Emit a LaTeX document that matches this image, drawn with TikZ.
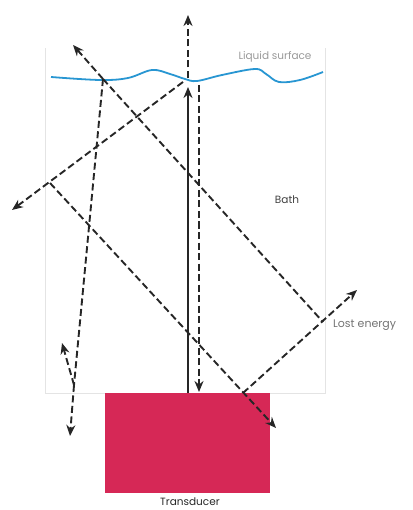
\documentclass[tikz,border=0pt]{standalone}
\usepackage{fontspec}
\setmainfont{Poppins}
\usetikzlibrary{arrows.meta}
\definecolor{surfblue}{RGB}{40,150,210}
\definecolor{transred}{RGB}{214,40,86}
\definecolor{wallgray}{RGB}{228,228,228}
\definecolor{labgray}{RGB}{130,130,130}
\begin{document}
\begin{tikzpicture}[x=1pt,y=-1pt,
  ray/.style={line width=1.9pt,dash pattern=on 7pt off 3.5pt,color=black!85},
  solidray/.style={line width=1.9pt,color=black!85},
  tip/.style={-{Stealth[length=11pt,width=9pt]}},
  lab/.style={font=\fontsize{10.5}{12}\selectfont,text=labgray,inner sep=0pt}]
\useasboundingbox (0,0) rectangle (412,510);
% bath walls
\draw[wallgray,line width=1pt] (45,48) -- (45,393) -- (325,393) -- (325,48);
% transducer
\node[fill=transred,minimum width=165pt,minimum height=100pt,inner sep=0pt,anchor=north west] (tr) at (105,393) {};
\node[font=\fontsize{10.5}{12}\selectfont,inner sep=0pt,text=black!85,anchor=base] (trl) at (190,505) {Transducer};
% liquid surface
\draw[surfblue,line width=1.8pt] plot[smooth,tension=0.6] coordinates {(51,77) (100,80) (128,78) (152,70) (170,74) (185,79) (197,81) (222,75) (255,69) (266,74) (279,82) (300,80) (323,72)};
\node[lab,text=black!40] (ls) at (275,57) {Liquid surface};
\node[lab,text=black!75] (bath) at (287,200) {Bath};
\node[lab,font=\fontsize{11}{12}\selectfont,anchor=west,text=black!55] (lost) at (333,325) {Lost energy};
% points
\coordinate (s1) at (188,87);
\coordinate (s0) at (188,393);
\coordinate (u0) at (188,78);
\coordinate (u1) at (188,15);
\coordinate (d0) at (199,85);
\coordinate (d1) at (199,392);
\coordinate (a0) at (183,82);
\coordinate (a1) at (12,210);
\coordinate (b0) at (50,183);
\coordinate (b1) at (276,428);
\coordinate (c0) at (103,79);
\coordinate (c1) at (323,322);
\coordinate (ct) at (73,45);
\coordinate (e0) at (243,393);
\coordinate (e1) at (357,290);
\coordinate (f1) at (74,385);
\coordinate (f2) at (70,436);
\coordinate (f3) at (62,343);
% rays
\draw[solidray,tip] (s0) -- (s1);
\draw[ray,tip] (u0) -- (u1);
\draw[ray,tip] (d0) -- (d1);
\draw[ray,tip] (a0) -- (a1);
\draw[ray,tip] (b0) -- (b1);
\draw[ray] (c0) -- (c1);
\draw[ray,tip] (c0) -- (ct);
\draw[ray,tip] (e0) -- (e1);
\draw[ray] (c0) -- (f1);
\draw[ray,tip] (f1) -- (f2);
\draw[ray,tip] (f1) -- (f3);
\end{tikzpicture}
\end{document}
